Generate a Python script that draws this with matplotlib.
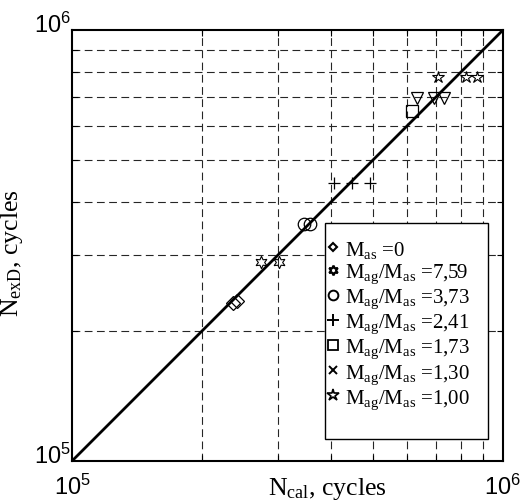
import matplotlib
matplotlib.use("Agg")
import matplotlib.pyplot as plt
import matplotlib.transforms as mtransforms
from matplotlib.lines import Line2D
from matplotlib.patches import Rectangle
from matplotlib.ticker import LogLocator, NullFormatter, FixedLocator

plt.rcParams['font.family'] = ['Liberation Serif', 'DejaVu Serif']
plt.rcParams['mathtext.fontset'] = 'custom'
plt.rcParams['mathtext.rm'] = 'Liberation Serif'
plt.rcParams['mathtext.it'] = 'Liberation Serif:italic'
plt.rcParams['mathtext.sf'] = 'Liberation Sans'

# ---- data ----
labels = [r'$\mathrm{M_{as}}$ =0',
          r'$\mathrm{M_{ag}/M_{as}}$ =7,59',
          r'$\mathrm{M_{ag}/M_{as}}$ =3,73',
          r'$\mathrm{M_{ag}/M_{as}}$ =2,41',
          r'$\mathrm{M_{ag}/M_{as}}$ =1,73',
          r'$\mathrm{M_{ag}/M_{as}}$ =1,30',
          r'$\mathrm{M_{ag}/M_{as}}$ =1,00']
n_cal_0 = [2.36e5, 2.42e5]
n_exp_0 = [2.33e5, 2.35e5]
n_cal_759 = [2.75e5, 3.02e5]
n_exp_759 = [2.90e5, 2.90e5]
n_cal_373 = [3.45e5, 3.57e5]
n_exp_373 = [3.55e5, 3.55e5]
n_cal_241 = [4.05e5, 4.46e5, 4.91e5]
n_exp_241 = [4.42e5, 4.42e5, 4.42e5]
n_cal_173 = [6.14e5]
n_exp_173 = [6.50e5]
n_cal_130 = [6.31e5, 6.92e5, 7.30e5]
n_exp_130 = [6.95e5, 6.95e5, 6.95e5]
n_cal_100 = [7.08e5, 8.19e5, 8.72e5]
n_exp_100 = [7.77e5, 7.77e5, 7.77e5]
line_x = [1e5, 1e6]
line_y = [1e5, 1e6]
tick_vals = [1e5, 1e6]
tick_labels = [r'$\mathsf{10^{5}}$', r'$\mathsf{10^{6}}$']

fig = plt.figure(figsize=(5.23, 5.02), dpi=100)
ax = fig.add_axes([72/523, 1-462/502, 431/523, 431/502])
ax.set_xscale('log')
ax.set_yscale('log')
ax.set_xlim(1e5, 1e6)
ax.set_ylim(1e5, 1e6)

ax.grid(True, which='minor', linestyle=(0, (7, 4)), color='0.15', linewidth=0.8)
ax.grid(False, which='major')

ax.plot(line_x, line_y, color='black', linewidth=2, zorder=3)

hexagram = (6, 1, 0)
kw = dict(linestyle='none', markerfacecolor='none', markeredgecolor='black', zorder=4)
ax.plot(n_cal_0, n_exp_0, marker='D', markersize=7.5, markeredgewidth=0.9, **kw)
ax.plot(n_cal_759, n_exp_759, marker=hexagram, markersize=9, markeredgewidth=0.8, **kw)
ax.plot(n_cal_373, n_exp_373, marker='o', markersize=9, markeredgewidth=0.9, **kw)
ax.plot(n_cal_241, n_exp_241, marker='+', markersize=9, markeredgewidth=0.9, **kw)
ax.plot(n_cal_173, n_exp_173, marker='s', markersize=8, markeredgewidth=0.9, **kw)
ax.plot(n_cal_130, n_exp_130, marker='v', markersize=9, markeredgewidth=0.9, **kw)
ax.plot(n_cal_100, n_exp_100, marker='*', markersize=9, markeredgewidth=0.8, **kw)

ax.xaxis.set_major_locator(FixedLocator(tick_vals))
ax.yaxis.set_major_locator(FixedLocator(tick_vals))
ax.set_xticklabels(tick_labels, fontsize=17)
ax.set_yticklabels(tick_labels, fontsize=17)
ax.xaxis.set_minor_locator(LogLocator(base=10, subs=range(2, 10)))
ax.yaxis.set_minor_locator(LogLocator(base=10, subs=range(2, 10)))
ax.xaxis.set_minor_formatter(NullFormatter())
ax.yaxis.set_minor_formatter(NullFormatter())
ax.tick_params(which='both', direction='in', top=True, right=True)
ax.tick_params(which='minor', length=4, width=0.8)
ax.tick_params(which='major', length=0)
ax.tick_params(axis='x', which='major', pad=9)
ax.tick_params(axis='y', which='major', pad=1)

shift = mtransforms.ScaledTranslation(0, 6/72, fig.dpi_scale_trans)
for lab in ax.get_yticklabels():
    lab.set_transform(lab.get_transform() + shift)

for s in ax.spines.values():
    s.set_linewidth(1.5)

ax.set_xlabel(r'$\mathrm{N_{cal}}$, cycles', fontsize=18.5)
ax.xaxis.set_label_coords(0.592, -0.033)
ax.set_ylabel(r'$\mathrm{N_{exD}}$, cycles', fontsize=18.5)
ax.yaxis.set_label_coords(-0.108, 0.485)

# legend
hw = dict(linestyle='none', color='black', markerfacecolor='none', markeredgecolor='black')
handles = [
    Line2D([], [], marker='D', markersize=4, markeredgewidth=1.5, **hw),
    Line2D([], [], marker=hexagram, markersize=7, markeredgewidth=1.6, **hw),
    Line2D([], [], marker='o', markersize=7, markeredgewidth=1.4, **hw),
    Line2D([], [], marker='+', markersize=8, markeredgewidth=1.4, **hw),
    Line2D([], [], marker='s', markersize=7, markeredgewidth=1.3, **hw),
    Line2D([], [], marker='x', markersize=6, markeredgewidth=1.4, **hw),
    Line2D([], [], marker='*', markersize=9, markeredgewidth=1.2, **hw),
]
x0 = (325-72)/431
x1 = (488-72)/431
y1 = (462-224)/431
y0 = (462-440)/431
leg = ax.legend(handles, labels, loc='upper left', bbox_to_anchor=(x0 - 0.014, y1 - 0.022),
                frameon=False, fontsize=15, handlelength=0.75, handletextpad=0.2,
                labelspacing=0.08, borderaxespad=0, borderpad=0.3)
leg.set_zorder(6)
ax.add_patch(Rectangle((x0, y0), x1 - x0, y1 - y0, transform=ax.transAxes,
                       facecolor='white', edgecolor='black', linewidth=1.0, zorder=5))

fig.savefig('out.png', dpi=100)
